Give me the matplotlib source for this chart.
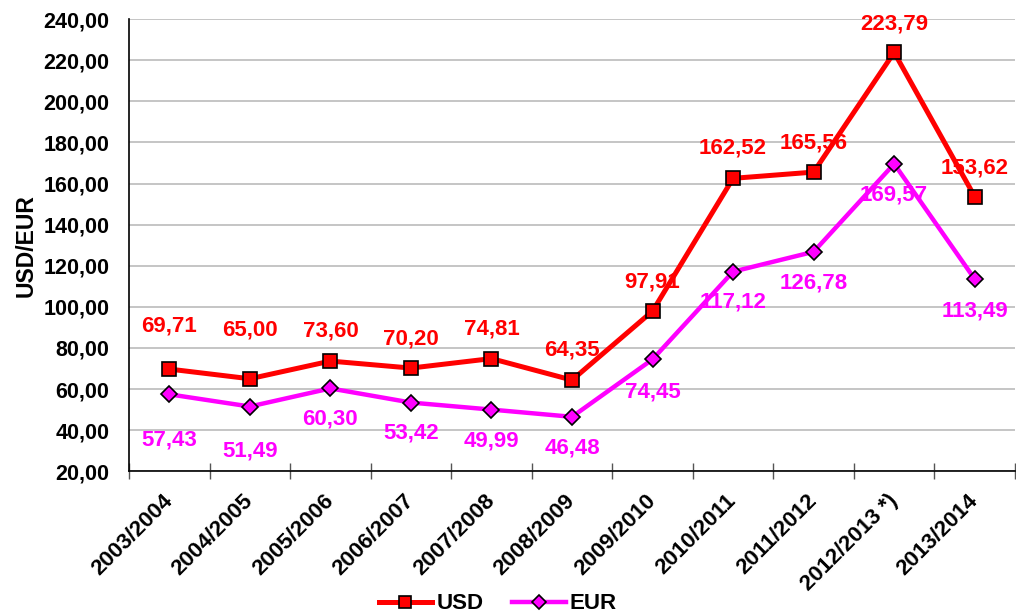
import matplotlib.pyplot as plt
from matplotlib.ticker import FixedLocator, FuncFormatter

plt.rcParams['font.family'] = ['Liberation Sans', 'DejaVu Sans']
plt.rcParams['font.weight'] = 'bold'

seasons = ['2003/2004', '2004/2005', '2005/2006', '2006/2007', '2007/2008',
           '2008/2009', '2009/2010', '2010/2011', '2011/2012', '2012/2013 *)',
           '2013/2014']
usd = [69.71, 65.00, 73.60, 70.20, 74.81, 64.35, 97.91, 162.52, 165.56, 223.79, 153.62]
eur = [57.43, 51.49, 60.30, 53.42, 49.99, 46.48, 74.45, 117.12, 126.78, 169.57, 113.49]

# label offsets in pixels (negative = above the point)
usd_off = [-43, -49, -30, -29, -30, -30, -29, -30, -29, -28, -29]
eur_off = [46, 44, 31, 30, 31, 31, 33, 30, 31, 31, 32]

red = '#ff0000'
magenta = '#ff00ff'


def fmt(v):
    return '{:.2f}'.format(v).replace('.', ',')


fig, ax = plt.subplots(figsize=(10.16, 6.16), dpi=100)
fig.subplots_adjust(left=0.127, right=0.999, top=0.969, bottom=0.235)

x = list(range(len(seasons)))
ax.plot(x, usd, color=red, lw=3.6, marker='s', markersize=10,
        markerfacecolor=red, markeredgecolor='black', markeredgewidth=1.2,
        label='USD', zorder=4)
ax.plot(x, eur, color=magenta, lw=3.2, marker='D', markersize=8,
        markerfacecolor=magenta, markeredgecolor='black', markeredgewidth=1.2,
        label='EUR', zorder=3)

for i in x:
    ax.annotate(fmt(usd[i]), (i, usd[i]), xytext=(0, -usd_off[i] * 0.72),
                textcoords='offset points', ha='center', va='center',
                color=red, fontsize=16, fontweight='bold', zorder=5)
    ax.annotate(fmt(eur[i]), (i, eur[i]), xytext=(0, -eur_off[i] * 0.72),
                textcoords='offset points', ha='center', va='center',
                color=magenta, fontsize=16, fontweight='bold', zorder=5)

ax.set_xlim(-0.5, len(seasons) - 0.5)
ax.set_ylim(20, 240)
ax.set_yticks(range(20, 241, 20))
ax.yaxis.set_major_formatter(FuncFormatter(lambda v, p: fmt(v)))
ax.tick_params(axis='y', length=0, pad=14, labelsize=15.5)

ax.set_xticks(x)
ax.set_xticklabels(seasons, rotation=45, ha='right', va='center',
                   rotation_mode='anchor')
ax.tick_params(axis='x', which='major', length=0, pad=19, labelsize=16)
ax.xaxis.set_minor_locator(FixedLocator([i - 0.5 for i in range(len(seasons) + 1)]))
ax.tick_params(axis='x', which='minor', direction='inout', length=12,
               width=1, color='#555555')

ax.grid(axis='y', color='#c0c0c0', lw=1.3)
ax.set_axisbelow(True)
for s in ['top', 'right']:
    ax.spines[s].set_visible(False)
for s in ['left', 'bottom']:
    ax.spines[s].set_color('black')
    ax.spines[s].set_linewidth(1.2)

ax.set_ylabel('USD/EUR', fontsize=16.5, fontweight='bold', labelpad=4)

fig.legend(loc='lower center', bbox_to_anchor=(0.49, -0.03), ncol=2,
           frameon=False, fontsize=16, handlelength=2.4, columnspacing=1.3,
           handletextpad=0.2, markerscale=0.85)

fig.savefig('out.png', dpi=100)
